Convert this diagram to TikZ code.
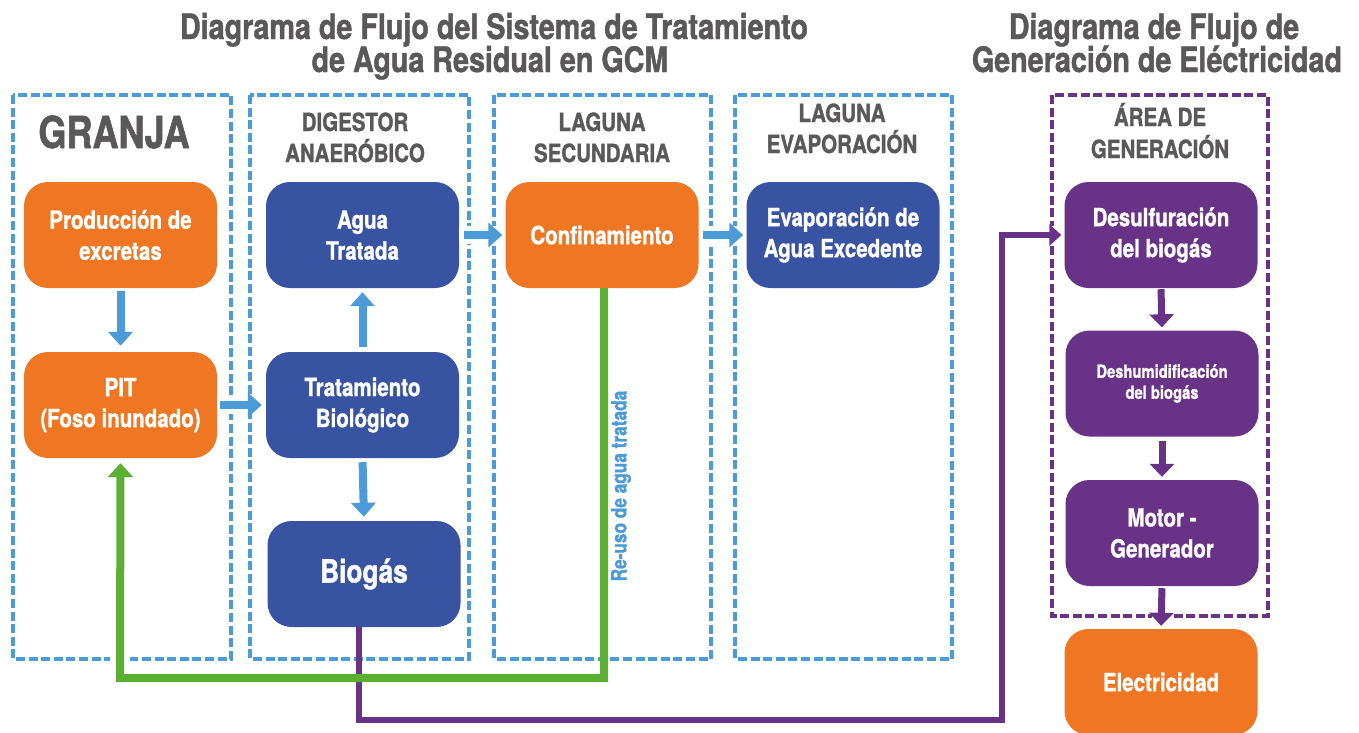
\documentclass[tikz,border=0pt]{standalone}
\usepackage{fontspec}
\setmainfont{TeX Gyre Heros}[FakeStretch=0.82,FakeBold=1.2]
\usetikzlibrary{arrows.meta}
\definecolor{corange}{HTML}{EF7622}
\definecolor{cdblue}{HTML}{3953A3}
\definecolor{cpurple}{HTML}{683387}
\definecolor{clblue}{HTML}{4A9BD7}
\definecolor{cgray}{HTML}{5A5859}
\definecolor{cgreen}{HTML}{5BAF33}
\newcommand\setfs[2]{\fontsize{#1}{#2}\selectfont}
\begin{document}
\begin{tikzpicture}[x=1pt,y=-1pt,
  procbox/.style={rounded corners=24pt, minimum width=193pt, minimum height=106pt,
    text=white, font=\bfseries\setfs{25}{31}, align=center, inner sep=0pt},
  orangebox/.style={procbox, fill=corange},
  bluebox/.style={procbox, fill=cdblue},
  purplebox/.style={procbox, fill=cpurple},
  head/.style={text=cgray, font=\bfseries\setfs{25}{31}, inner sep=0pt, anchor=base},
  titletext/.style={text=cgray, font=\bfseries\setfs{35}{38}, inner sep=0pt, anchor=base},
  dashbox/.style={line width=4pt, dash pattern=on 9pt off 3.6pt},
  bluedash/.style={dashbox, draw=clblue},
  purpledash/.style={dashbox, draw=cpurple},
  halo/.style={draw=white, line width=#1},
  barrow/.style={draw=clblue, line width=8pt, -{Triangle[width=24pt,length=14pt]}},
  parrow/.style={draw=cpurple, line width=7pt, -{Triangle[width=24pt,length=13pt]}},
  pline/.style={draw=cpurple, line width=6pt, -{Triangle[width=21pt,length=12pt]}},
  gline/.style={draw=cgreen, line width=8pt, -{Triangle[width=25pt,length=14pt]}}
]
\clip (0,0) rectangle (1359,732);
\fill[white] (0,0) rectangle (1359,732);

% titles
\node[titletext] (t1a) at (494,39) {Diagrama de Flujo del Sistema de Tratamiento};
\node[titletext] (t1b) at (490,72) {de Agua Residual en GCM};
\node[titletext] (t2a) at (1154,39) {Diagrama de Flujo de};
\node[titletext] (t2b) at (1157,72) {Generación de Eléctricidad};

% dashed areas
\draw[bluedash] (13,95) rectangle (231,659);
\draw[bluedash] (250,95) rectangle (469,659);
\draw[bluedash] (494,95) rectangle (711,659);
\draw[bluedash] (735,95) rectangle (952,659);
\draw[purpledash] (1052,95) rectangle (1268,616);

% area headings
\node[head, font=\bfseries\setfs{44}{44}] (gra) at (114,148) {GRANJA};
\node[head] (dig1) at (355,131) {DIGESTOR};
\node[head] (dig2) at (355,162) {ANAERÓBICO};
\node[head] (lag1) at (602,131) {LAGUNA};
\node[head] (lag2) at (602,162) {SECUNDARIA};
\node[head] (eva1) at (842,122) {LAGUNA};
\node[head] (eva2) at (842,153) {EVAPORACIÓN};
\node[head] (are1) at (1160,126) {ÁREA DE};
\node[head] (are2) at (1160,158) {GENERACIÓN};

% process boxes
\node[orangebox] (prod) at (120.5,235) {Producción de\\excretas};
\node[orangebox] (pit) at (120.5,405) {PIT\\(Foso inundado)};
\node[bluebox] (agua) at (362.5,235) {Agua\\Tratada};
\node[bluebox] (trat) at (362.5,405) {Tratamiento\\Biológico};
\node[bluebox, font=\bfseries\setfs{32}{36}] (bio) at (364,574) {Biogás};
\node[orangebox] (conf) at (602,235) {Confinamiento};
\node[bluebox] (evap) at (843,235) {Evaporación de\\Agua Excedente};
\node[purplebox] (desul) at (1161,235) {Desulfuración\\del biogás};
\node[purplebox, font=\bfseries\setfs{18}{21}] (deshum) at (1162,383.5) {Deshumidificación\\del biogás};
\node[purplebox] (motor) at (1162,533) {Motor -\\Generador};
\node[orangebox] (elec) at (1161,682) {Electricidad};

% long connectors
\coordinate (pc) at (1002,720);
\coordinate (gc) at (120,678);
\path[halo=18pt] (pc) |- (desul.west);
\path[halo=20pt] (gc) -- ([yshift=-5pt]pit.south);
\draw[pline, shorten >=3pt] ([xshift=-5pt]bio.south) |- (pc) |- (desul.west);
\draw[gline, shorten >=5pt] ([xshift=2pt]conf.south) |- (gc) -- (pit.south);
\node[rotate=90, text=clblue, font=\bfseries\setfs{21}{21}, inner sep=0pt] (reuso) at (621,486) {Re-uso de agua tratada};

% short arrows with halos
\path[halo=18pt] (prod.south) -- (pit.north);
\path[halo=18pt] (pit.east) -- (trat.west);
\path[halo=18pt] (agua.east) -- (conf.west);
\path[halo=18pt] (conf.east) -- (evap.west);
\path[halo=18pt] ([yshift=-2pt]motor.south) -- ([yshift=3pt]elec.north);
\draw[barrow, shorten <=3pt, shorten >=6pt] (prod.south) -- (pit.north);
\draw[barrow, shorten <=3pt, shorten >=4pt] (pit.east) -- (trat.west);
\draw[barrow, shorten <=5pt, shorten >=4pt] (trat.north) -- (agua.south);
\draw[barrow, shorten <=4pt, shorten >=4pt] (trat.south) -- (bio.north);
\draw[barrow, shorten <=5pt, shorten >=3pt] (agua.east) -- (conf.west);
\draw[barrow, shorten <=4pt, shorten >=3pt] (conf.east) -- (evap.west);
\draw[parrow, shorten <=1pt, shorten >=3pt] (desul.south) -- (deshum.north);
\draw[parrow, shorten <=4pt, shorten >=3pt] (deshum.south) -- (motor.north);
\draw[parrow, shorten <=2pt, shorten >=3pt] (motor.south) -- (elec.north);
\end{tikzpicture}
\end{document}
